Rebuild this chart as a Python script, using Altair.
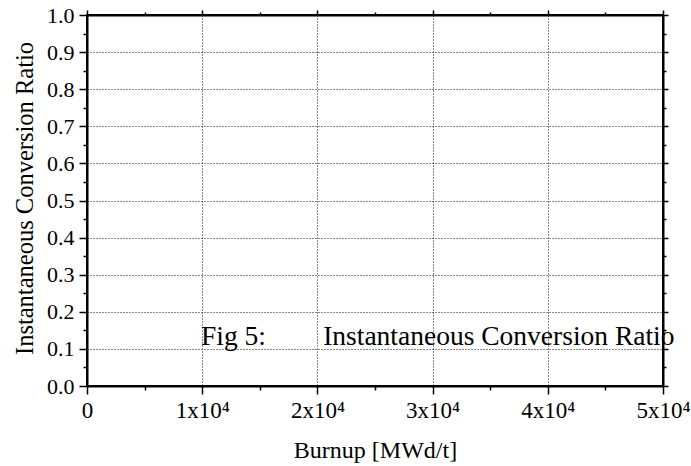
import altair as alt
import pandas as pd

# Data / labels
x_major = [0, 10000, 20000, 30000, 40000, 50000]
x_minor = [5000, 15000, 25000, 35000, 45000]
y_major = [0.0, 0.1, 0.2, 0.3, 0.4, 0.5, 0.6, 0.7, 0.8, 0.9, 1.0]
y_minor = [0.05, 0.15, 0.25, 0.35, 0.45, 0.55, 0.65, 0.75, 0.85, 0.95]
ann_text = ["Fig 5:", "Instantaneous Conversion Ratio"]
ann_x = [9900, 20500]
ann_y = [0.11, 0.11]
x_title = "Burnup [MWd/t]"
y_title = "Instantaneous Conversion Ratio"

df = pd.DataFrame({"x": ann_x, "y": ann_y, "t": ann_text})

FONT = "Liberation Serif"
xs = alt.Scale(domain=[0, 50000], nice=False, zero=False)
ys = alt.Scale(domain=[0, 1], nice=False, zero=False)

x_label_expr = "datum.value == 0 ? '0' : format(datum.value/10000, 'd') + 'x10\u2074'"

main = alt.Chart(df).mark_text(
    align="left", baseline="alphabetic", font=FONT, fontSize=27.5, color="black"
).encode(
    x=alt.X("x:Q", scale=xs, axis=alt.Axis(
        orient="bottom", values=x_major, labelExpr=x_label_expr,
        labelFont=FONT, labelFontSize=23, labelColor="black",
        labelBaseline="alphabetic", labelPadding=23, labelFlush=False,
        labelOverlap=False, tickSize=8, tickColor="black", tickWidth=1.5,
        domainColor="black", domainWidth=2,
        grid=True, gridColor="#111111", gridDash=[1, 2], gridWidth=1,
        title=x_title, titleFont=FONT, titleFontSize=24, titleFontWeight="normal",
        titleColor="black", titleX=288, titleY=71, titleBaseline="alphabetic",
        titleAlign="center")),
    y=alt.Y("y:Q", scale=ys, axis=alt.Axis(
        orient="left", values=y_major, format=".1f",
        labelFont=FONT, labelFontSize=22, labelColor="black",
        labelPadding=5, labelBaseline="middle",
        tickSize=8, tickColor="black", tickWidth=1.5,
        domainColor="black", domainWidth=2,
        grid=True, gridColor="#111111", gridDash=[1, 2], gridWidth=1,
        title=y_title, titleFont=FONT, titleFontSize=24.5, titleFontWeight="normal",
        titleColor="black", titleX=-55, titleY=183, titleAngle=-90,
        titleBaseline="alphabetic", titleAlign="center")),
    text="t:N",
)

def ghost(xaxis, yaxis):
    return alt.Chart(df).mark_point(opacity=0).encode(
        x=alt.X("x:Q", scale=xs, axis=xaxis),
        y=alt.Y("y:Q", scale=ys, axis=yaxis),
    )

minor_bl = ghost(
    alt.Axis(orient="bottom", values=x_minor, labels=False, domain=False, grid=False,
             tickSize=4, tickColor="black", tickWidth=1.5, title=None),
    alt.Axis(orient="left", values=y_minor, labels=False, domain=False, grid=False,
             tickSize=4, tickColor="black", tickWidth=1.5, title=None),
)
major_tr = ghost(
    alt.Axis(orient="top", values=x_major, labels=False, domain=True, domainColor="black",
             domainWidth=2, grid=False, tickSize=5, tickColor="black", tickWidth=1.5, title=None),
    alt.Axis(orient="right", values=y_major, labels=False, domain=True, domainColor="black",
             domainWidth=2, grid=False, tickSize=5, tickColor="black", tickWidth=1.5, title=None),
)
minor_tr = ghost(
    alt.Axis(orient="top", values=x_minor, labels=False, domain=False, grid=False,
             tickSize=3, tickColor="black", tickWidth=1.5, title=None),
    alt.Axis(orient="right", values=y_minor, labels=False, domain=False, grid=False,
             tickSize=3, tickColor="black", tickWidth=1.5, title=None),
)

chart = alt.layer(main, minor_bl, major_tr, minor_tr).resolve_axis(
    x="independent", y="independent"
).properties(
    width=576, height=371,
    autosize=alt.AutoSizeParams(type="none"),
    padding={"left": 87, "top": 15, "right": 28, "bottom": 80},
    background="white",
).configure_view(stroke="black", strokeWidth=2)

chart.save("out.html", embed_options={"renderer": "svg", "actions": False})
